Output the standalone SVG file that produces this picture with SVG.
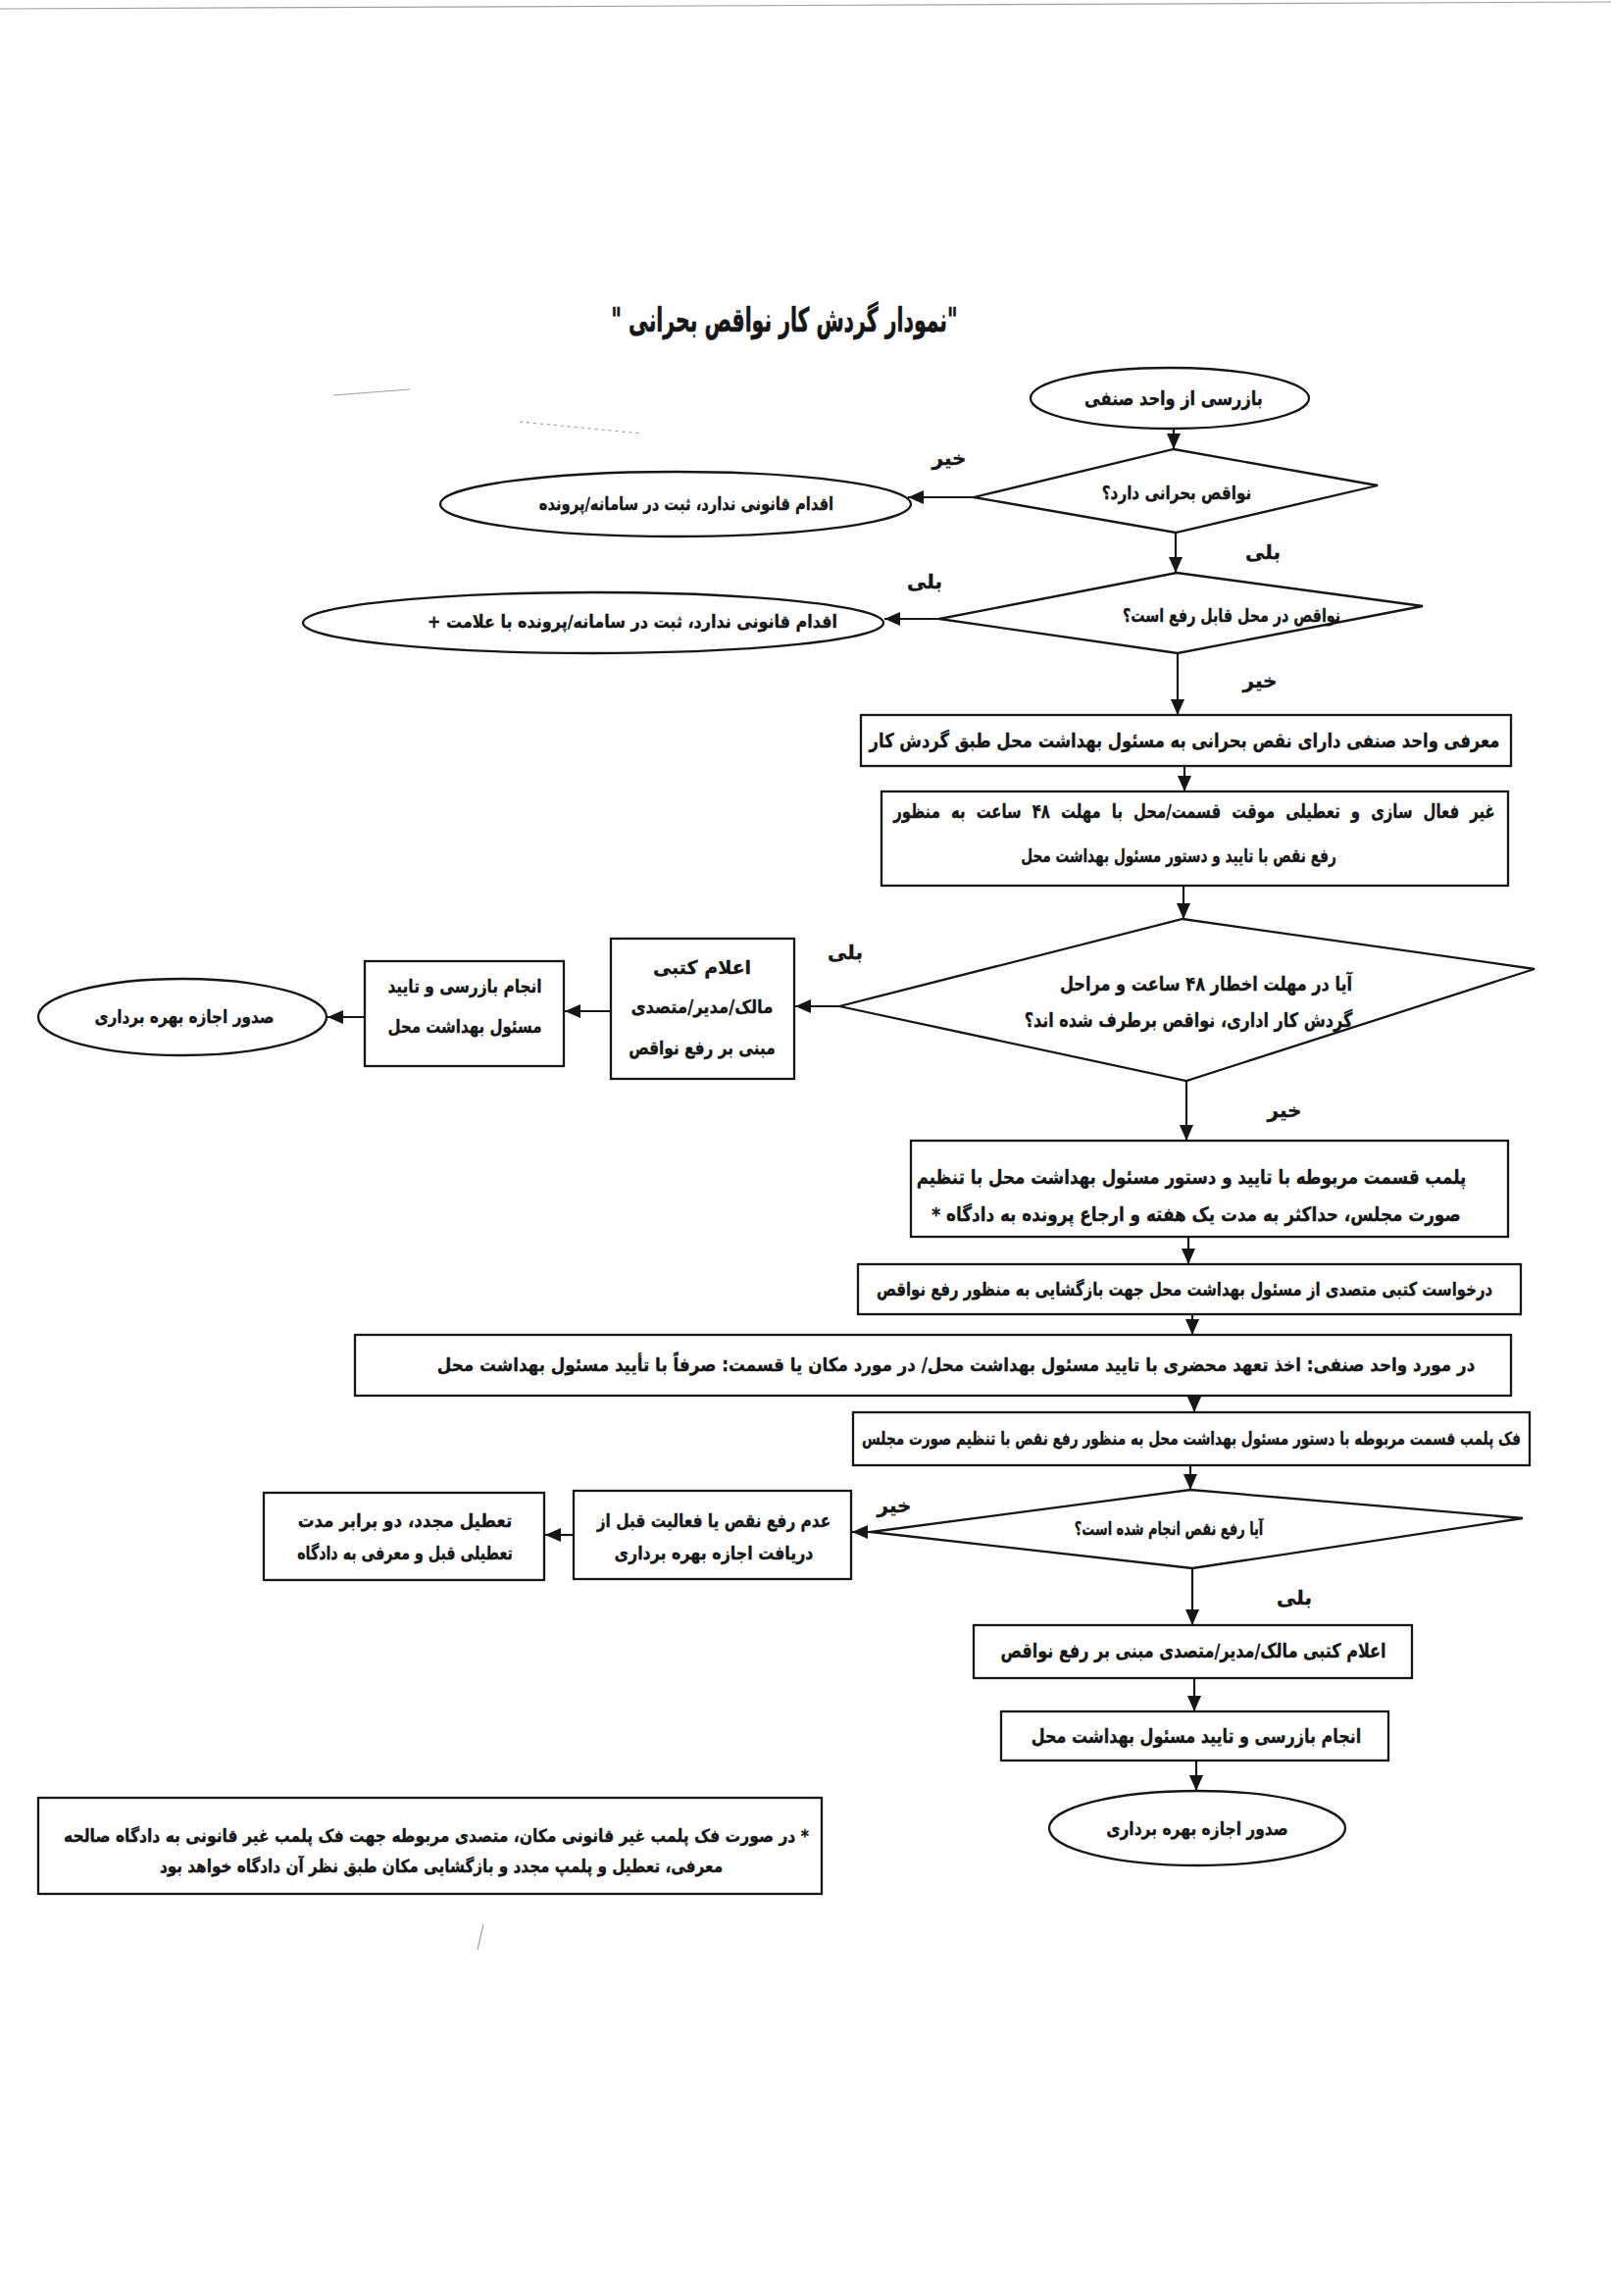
<svg xmlns="http://www.w3.org/2000/svg" width="1643" height="2341" viewBox="0 0 1643 2341">
<style>
.s{fill:none;stroke:#161616;stroke-width:2.3}
.c{fill:none;stroke:#161616;stroke-width:2.2}
.t{font-family:"DejaVu Sans",sans-serif;font-weight:bold;fill:#161616;stroke:#161616;stroke-width:0.35px;text-anchor:middle;dominant-baseline:central;direction:rtl}
.f17{font-size:17px}.f18{font-size:18px}.f19{font-size:19px}.f20{font-size:20px}
.lb{font-size:20px}
.art{fill:none;stroke:#a0a0a0;stroke-width:1.2}
</style>
<defs>
<marker id="ah" viewBox="0 0 10 10" refX="10" refY="5" markerWidth="16" markerHeight="16" markerUnits="userSpaceOnUse" orient="auto">
<path d="M0,0.6 L10,5 L0,9.4 z" fill="#161616"/>
</marker>
</defs>
<rect x="0" y="0" width="1643" height="2341" fill="#ffffff"/>
<g id="artifacts">
<path class="art" d="M0,9 L1643,2"/>
<path class="art" d="M340,403 L418,397"/>
<path class="art" d="M530,430 L655,442" stroke-dasharray="3 4"/>
<path class="art" d="M493,1962 L487,1988"/>
</g>
<g id="title"><text class="t" transform="translate(800,326) scale(0.6,1)" style="font-size:34px;stroke-width:0.6px">"نمودار گردش کار نواقص بحرانی "</text></g>

<g id="connectors">
<line class="c" x1="1197" y1="437" x2="1197" y2="458" marker-end="url(#ah)"/>
<line class="c" x1="993" y1="507" x2="926" y2="507" marker-end="url(#ah)"/>
<line class="c" x1="1199" y1="543" x2="1199" y2="584" marker-end="url(#ah)"/>
<line class="c" x1="958" y1="631" x2="902" y2="631" marker-end="url(#ah)"/>
<line class="c" x1="1201" y1="666" x2="1201" y2="729" marker-end="url(#ah)"/>
<line class="c" x1="1208" y1="781" x2="1208" y2="807" marker-end="url(#ah)"/>
<line class="c" x1="1207" y1="903" x2="1207" y2="937" marker-end="url(#ah)"/>
<line class="c" x1="856" y1="1026" x2="811" y2="1026" marker-end="url(#ah)"/>
<line class="c" x1="623" y1="1031" x2="576" y2="1031" marker-end="url(#ah)"/>
<line class="c" x1="372" y1="1037" x2="334" y2="1037" marker-end="url(#ah)"/>
<line class="c" x1="1210" y1="1102" x2="1210" y2="1163" marker-end="url(#ah)"/>
<line class="c" x1="1212" y1="1261" x2="1212" y2="1289" marker-end="url(#ah)"/>
<line class="c" x1="1216" y1="1340" x2="1216" y2="1361" marker-end="url(#ah)"/>
<line class="c" x1="1218" y1="1423" x2="1218" y2="1440" marker-end="url(#ah)"/>
<line class="c" x1="1214" y1="1494" x2="1214" y2="1519" marker-end="url(#ah)"/>
<line class="c" x1="888" y1="1562" x2="869" y2="1562" marker-end="url(#ah)"/>
<line class="c" x1="585" y1="1565" x2="556" y2="1565" marker-end="url(#ah)"/>
<line class="c" x1="1216" y1="1599" x2="1216" y2="1657" marker-end="url(#ah)"/>
<line class="c" x1="1218" y1="1711" x2="1218" y2="1745" marker-end="url(#ah)"/>
<line class="c" x1="1220" y1="1795" x2="1220" y2="1826" marker-end="url(#ah)"/>
<text class="t lb" x="968" y="467">خیر</text>
<text class="t lb" x="1288" y="563">بلی</text>
<text class="t lb" x="943" y="593">بلی</text>
<text class="t lb" x="1285" y="694">خیر</text>
<text class="t lb" x="862" y="971">بلی</text>
<text class="t lb" x="1310" y="1132">خیر</text>
<text class="t lb" x="912" y="1535">خیر</text>
<text class="t lb" x="1320" y="1629">بلی</text>
</g>

<g id="n_start"><ellipse class="s" cx="1193" cy="406" rx="142" ry="31"/><text class="t f20" transform="translate(1197,406) scale(0.81,1)">بازرسی از واحد صنفی</text></g>
<g id="n_d1"><polygon class="s" points="1197,458 1405,495 1199,543 993,507"/><text class="t f19" transform="translate(1200,502) scale(0.8,1)">نواقص بحرانی دارد؟</text></g>
<g id="n_e2"><ellipse class="s" cx="689" cy="514" rx="240" ry="33"/><text class="t f18" transform="translate(700,514) scale(0.82,1)">اقدام قانونی ندارد، ثبت در سامانه/پرونده</text></g>
<g id="n_d2"><polygon class="s" points="1200,584 1451,618 1201,666 958,631"/><text class="t f19" transform="translate(1256,627) scale(0.75,1)">نواقص در محل قابل رفع است؟</text></g>
<g id="n_e3"><ellipse class="s" cx="605" cy="635" rx="296" ry="31"/><text class="t f18" transform="translate(645,634) scale(0.89,1)">اقدام قانونی ندارد، ثبت در سامانه/پرونده با علامت +</text></g>
<g id="n_b1"><rect class="s" x="878" y="729" width="663" height="52"/><text class="t f20" transform="translate(1208,755) scale(0.82,1)">معرفی واحد صنفی دارای نقص بحرانی به مسئول بهداشت محل طبق گردش کار</text></g>
<g id="n_b2"><rect class="s" x="899" y="807" width="639" height="96"/><text class="t f20" transform="translate(1218,827) scale(0.742,1)" style="word-spacing:8px">غیر فعال سازی و تعطیلی موقت قسمت/محل با مهلت ۴۸ ساعت به منظور</text><text class="t f19" transform="translate(1202,873) scale(0.72,1)">رفع نقص با تایید و دستور مسئول بهداشت محل</text></g>
<g id="n_d3"><polygon class="s" points="1206,937 1565,988 1210,1102 856,1026"/><text class="t f20" transform="translate(1230,1003) scale(0.806,1)">آیا در مهلت اخطار ۴۸ ساعت و مراحل</text><text class="t f20" transform="translate(1212,1040) scale(0.8,1)">گردش کار اداری، نواقص برطرف شده اند؟</text></g>
<g id="n_ba"><rect class="s" x="623" y="957" width="187" height="143"/><text class="t f19" transform="translate(716,986) scale(1,1)">اعلام کتبی</text><text class="t f19" transform="translate(716,1027) scale(0.864,1)">مالک/مدیر/متصدی</text><text class="t f19" transform="translate(716,1068) scale(0.807,1)">مبنی بر رفع نواقص</text></g>
<g id="n_bb"><rect class="s" x="372" y="980" width="203" height="107"/><text class="t f19" transform="translate(474,1005) scale(0.81,1)">انجام بازرسی و تایید</text><text class="t f19" transform="translate(474,1046) scale(0.79,1)">مسئول بهداشت محل</text></g>
<g id="n_ec"><ellipse class="s" cx="186" cy="1037" rx="147" ry="39"/><text class="t f18" transform="translate(188,1037) scale(0.85,1)">صدور اجازه بهره برداری</text></g>
<g id="n_b3"><rect class="s" x="929" y="1163" width="609" height="98"/><text class="t f20" transform="translate(1215,1200) scale(0.835,1)">پلمب قسمت مربوطه با تایید و دستور مسئول بهداشت محل با تنظیم</text><text class="t f20" transform="translate(1220,1238) scale(0.842,1)">صورت مجلس، حداکثر به مدت یک هفته و ارجاع پرونده به دادگاه *</text></g>
<g id="n_b4"><rect class="s" x="875" y="1289" width="676" height="51"/><text class="t f19" transform="translate(1208,1314) scale(0.784,1)">درخواست کتبی متصدی از مسئول بهداشت محل جهت بازگشایی به منظور رفع نواقص</text></g>
<g id="n_b5"><rect class="s" x="362" y="1361" width="1179" height="62"/><text class="t f19" transform="translate(975,1391) scale(0.882,1)">در مورد واحد صنفی: اخذ تعهد محضری با تایید مسئول بهداشت محل/ در مورد مکان یا قسمت: صرفاً با تأیید مسئول بهداشت محل</text></g>
<g id="n_b6"><rect class="s" x="870" y="1440" width="690" height="54"/><text class="t f18" transform="translate(1215,1467) scale(0.76,1)">فک پلمب  قسمت مربوطه با دستور مسئول بهداشت محل به منظور رفع نقص با تنظیم صورت مجلس</text></g>
<g id="n_d4"><polygon class="s" points="1214,1519 1553,1548 1216,1599 888,1562"/><text class="t f18" transform="translate(1192,1559) scale(0.72,1)">آیا رفع نقص انجام شده است؟</text></g>
<g id="n_bd"><rect class="s" x="585" y="1520" width="283" height="90"/><text class="t f19" transform="translate(728,1550) scale(0.81,1)">عدم رفع نقص یا فعالیت قبل از</text><text class="t f19" transform="translate(728,1583) scale(0.835,1)">دریافت اجازه بهره برداری</text></g>
<g id="n_be"><rect class="s" x="269" y="1522" width="286" height="89"/><text class="t f19" transform="translate(413,1550) scale(0.88,1)">تعطیل مجدد، دو برابر مدت</text><text class="t f19" transform="translate(413,1583) scale(0.75,1)">تعطیلی قبل و معرفی به دادگاه</text></g>
<g id="n_bf"><rect class="s" x="993" y="1657" width="447" height="54"/><text class="t f20" transform="translate(1217,1683) scale(0.8,1)">اعلام کتبی مالک/مدیر/متصدی مبنی بر رفع نواقص</text></g>
<g id="n_bg"><rect class="s" x="1021" y="1745" width="395" height="50"/><text class="t f20" transform="translate(1220,1770) scale(0.8,1)">انجام بازرسی و تایید مسئول بهداشت محل</text></g>
<g id="n_eh"><ellipse class="s" cx="1221" cy="1864" rx="151" ry="38"/><text class="t f19" transform="translate(1221,1864) scale(0.815,1)">صدور اجازه بهره برداری</text></g>
<g id="n_note"><rect class="s" x="39" y="1833" width="799" height="98"/><text class="t f18" transform="translate(445,1872) scale(0.865,1)">* در صورت فک پلمب غیر قانونی مکان، متصدی مربوطه جهت فک پلمب غیر قانونی به دادگاه صالحه</text><text class="t f18" transform="translate(450,1903) scale(0.847,1)">معرفی، تعطیل و پلمپ مجدد و بازگشایی مکان طبق نظر آن دادگاه  خواهد بود</text></g>
</svg>
